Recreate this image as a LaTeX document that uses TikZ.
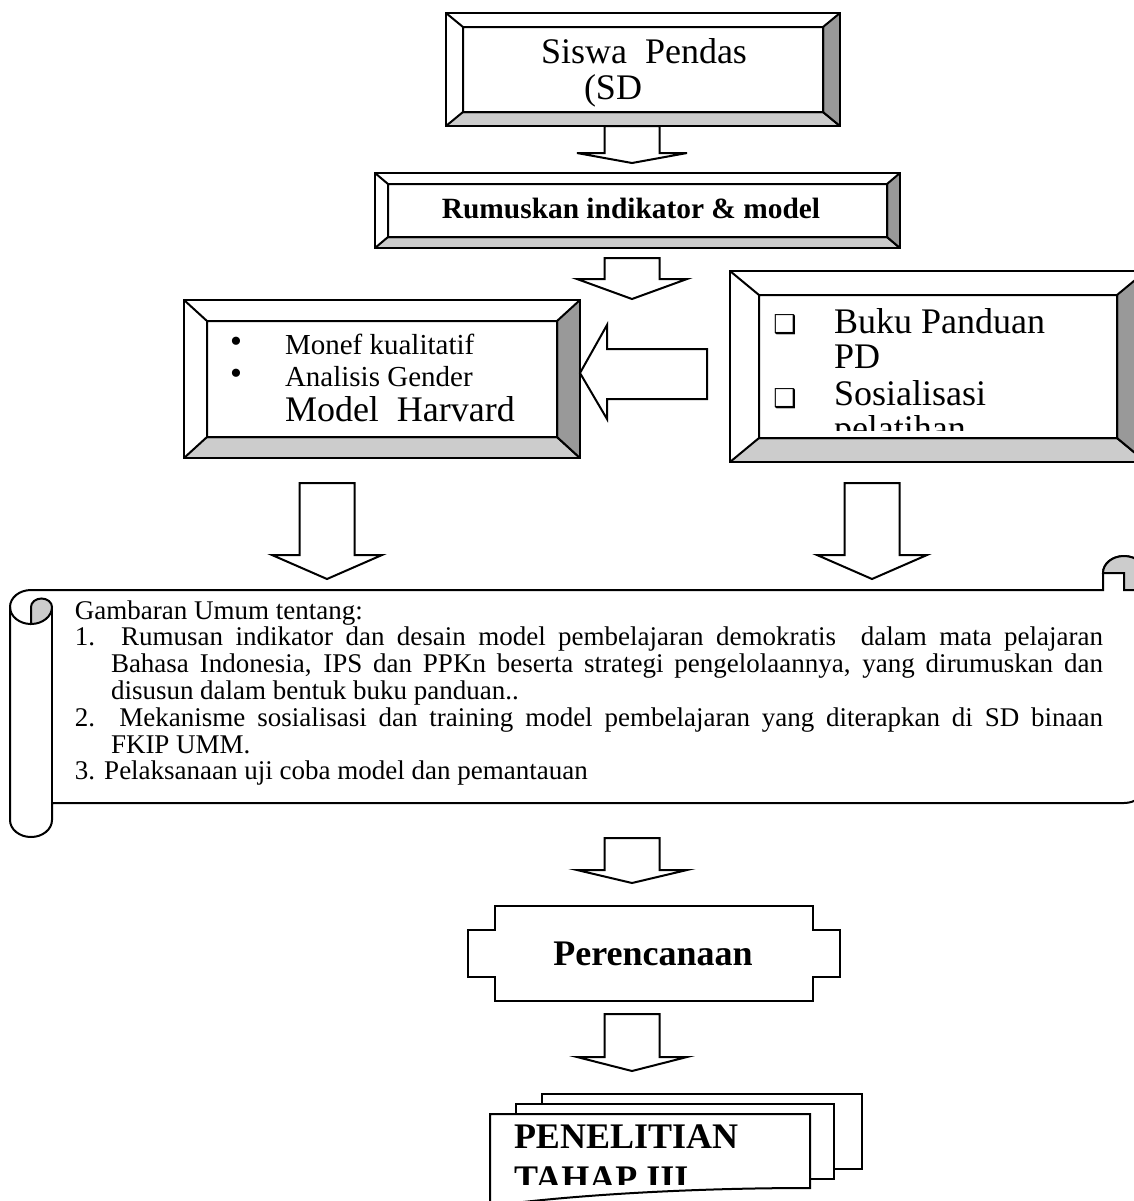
\documentclass[tikz,border=0pt]{standalone}
\usepackage{fontspec}
\setmainfont{Liberation Serif}
\newfontfamily\dingfont{DejaVu Sans}
\usepackage{tikz}
\usetikzlibrary{calc,fit}

\definecolor{bevelbottom}{HTML}{CCCCCC}
\definecolor{bevelside}{HTML}{999999}

\begin{document}
\begin{tikzpicture}[x=0.5pt, y=-0.5pt, line width=1pt]
\tikzstyle{every node} = [inner sep=0pt]
\tikzstyle{txt} = [anchor=base west]
\tikzstyle{blockarrow} = [draw, fill=white, line join=miter]
\tikzstyle{big} = [font=\fontsize{18}{18}\selectfont]
\tikzstyle{bigbold} = [font=\fontsize{18}{18}\selectfont\bfseries]
\tikzstyle{mid} = [font=\fontsize{14.5}{14.5}\selectfont]
\tikzset{bevel/.style 2 args={draw, fill=white,
  path picture={
    \coordinate (o1) at (path picture bounding box.north west);
    \coordinate (o2) at (path picture bounding box.north east);
    \coordinate (o3) at (path picture bounding box.south east);
    \coordinate (o4) at (path picture bounding box.south west);
    \coordinate (i1) at ($(o1)+(#1,#2)$);
    \coordinate (i2) at ($(o2)+(-#1,#2)$);
    \coordinate (i3) at ($(o3)+(-#1,-#2)$);
    \coordinate (i4) at ($(o4)+(#1,-#2)$);
    \filldraw[fill=bevelbottom] (o4) -- (o3) -- (i3) -- (i4) -- cycle;
    \filldraw[fill=bevelside] (o2) -- (o3) -- (i3) -- (i2) -- cycle;
    \draw (o1) -- (i1) (i1) rectangle (i3);
  }}}
\newcommand{\downblock}[4]{%
  \draw[blockarrow] (#1-27.5,#2) -- (#1+27.5,#2) -- (#1+27.5,#3) -- (#1+55,#3)
    -- (#1,#4) -- (#1-55,#3) -- (#1-27.5,#3) -- cycle;}

\useasboundingbox (0,0) rectangle (1134,1201);
\clip (0,0) rectangle (1134,1201);

% kotak bevel
\node[bevel={17}{14}, fit={(446,13) (840,126)}] (siswa) {};
\node[bevel={13}{11}, fit={(375,173) (900,248)}] (rumus) {};
\node[bevel={23}{21}, fit={(184,300) (580,458)}] (monef) {};
\node[bevel={29}{24}, fit={(730,271) (1146,462)}] (buku) {};

\node[txt, big] (siswa1) at (540,63) {Siswa\ \ Pendas};
\node[txt, big] (siswa2) at (583,99) {(SD};
\node[anchor=base, font=\fontsize{14.7}{14.7}\selectfont\bfseries] (rumus1) at (631,218) {Rumuskan indikator \& model};

\node[font=\fontsize{17}{17}\selectfont] (dot1) at (236,345) {\textbullet};
\node[font=\fontsize{17}{17}\selectfont] (dot2) at (236,377) {\textbullet};
\node[txt, mid] (monef1) at (284,354) {Monef kualitatif};
\node[txt, mid] (monef2) at (284,386) {Analisis Gender};
\node[txt, big] (monef3) at (284,421) {Model\ \ Harvard};

\begin{scope}
\clip (759,295) rectangle (1117,430);
\node[font=\dingfont\fontsize{13}{13}\selectfont] (kotak1) at (785,325) {❑};
\node[font=\dingfont\fontsize{13}{13}\selectfont] (kotak2) at (785,399) {❑};
\node[txt, big] (buku1) at (833,333) {Buku Panduan};
\node[txt, big] (buku2) at (833,368) {PD};
\node[txt, big] (buku3) at (833,405) {Sosialisasi};
\node[txt, big] (buku4) at (833,440) {pelatihan};
\end{scope}

% panah blok
\downblock{632}{126}{153}{163}
\downblock{632}{258}{279}{299}
\draw[blockarrow] (580,373) -- (607,325) -- (607,349) -- (707,349) -- (707,399)
  -- (607,399) -- (607,419) -- cycle;
\downblock{327}{483}{555}{579}
\downblock{872}{483}{555}{579}

% gulungan
\draw[fill=white] (10,607) arc[start angle=180, end angle=270, x radius=21, y radius=17]
  -- (1103,590) -- (1103,573) arc[start angle=180, end angle=360, x radius=21, y radius=17]
  -- (1145,786) arc[start angle=0, end angle=90, x radius=21, y radius=17]
  -- (52,803) -- (52,820) arc[start angle=0, end angle=180, x radius=21, y radius=17]
  -- cycle;
\draw (10,607) arc[start angle=180, end angle=90, x radius=21, y radius=17];
\filldraw[fill=bevelbottom] (31,624) arc[start angle=90, end angle=0, x radius=21, y radius=17]
  arc[start angle=0, end angle=-180, x radius=10.5, y radius=8.5] -- cycle;
\draw (52,607) -- (52,803);
\filldraw[fill=bevelbottom] (1103,573) arc[start angle=180, end angle=360, x radius=21, y radius=17]
  -- (1145,590) -- (1124,590) -- (1124,573) -- cycle;
\draw (1103,573) -- (1103,590);

\node[txt, text width=514pt, font=\fontsize{13.5}{13.4}\selectfont] (umum) at (74,619) {%
\spaceskip=0pt\xspaceskip=0pt
Gambaran Umum tentang:\\
\makebox[\linewidth][s]{1. Rumusan indikator dan desain model pembelajaran demokratis\ \ dalam mata pelajaran}\\
\hspace*{18pt}\makebox[\dimexpr\linewidth-18pt\relax][s]{Bahasa Indonesia, IPS dan PPKn beserta strategi pengelolaannya, yang dirumuskan dan}\\
\hspace*{18pt}disusun dalam bentuk buku panduan..\\
\makebox[\linewidth][s]{2. Mekanisme sosialisasi dan training model pembelajaran yang diterapkan di SD binaan}\\
\hspace*{18pt}FKIP UMM.\\
3. Pelaksanaan uji coba model dan pemantauan};

\downblock{632}{838}{870}{883}

% perencanaan
\draw (495,906) -- (813,906) -- (813,930) -- (840,930) -- (840,977) -- (813,977)
  -- (813,1001) -- (495,1001) -- (495,977) -- (468,977) -- (468,930) -- (495,930) -- cycle;
\node[anchor=base, bigbold] (renc) at (653,965) {Perencanaan};

\downblock{632}{1014}{1057}{1071}

% dokumen
\draw[fill=white] (542,1094) rectangle (862,1169);
\draw[fill=white] (516,1104) rectangle (834,1179);
\draw[fill=white] (490,1114) -- (810,1114) -- (810,1188)
  .. controls (700,1188) and (580,1194) .. (490,1206) -- cycle;
\begin{scope}
\clip (490,1114) rectangle (810,1184);
\node[txt, bigbold] (pen1) at (513,1148) {PENELITIAN};
\node[txt, bigbold] (pen2) at (513,1190) {TAHAP III};
\end{scope}

\end{tikzpicture}
\end{document}
